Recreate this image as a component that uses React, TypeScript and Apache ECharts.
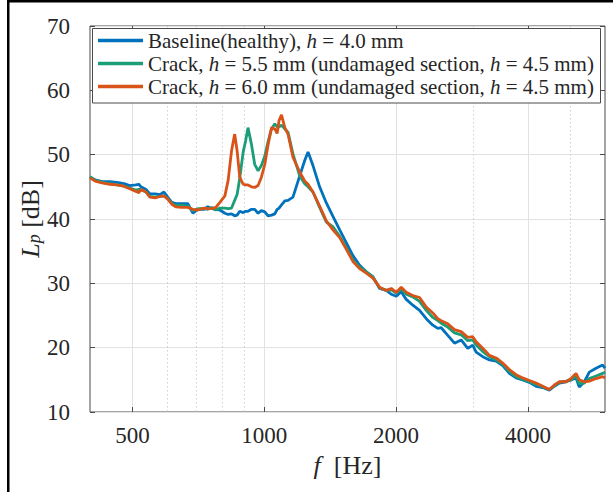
import React, { useEffect, useRef } from 'react';
import * as echarts from 'echarts';

// Frequencies (Hz) shared by all three spectra
const freqHz = [
  400, 411, 426, 444, 461, 478, 493, 509, 517, 523, 537, 548, 563, 578, 590, 602, 615, 628, 648, 669, 687, 705, 728, 743, 759, 775,
  792, 813, 827, 842, 856, 867, 879, 895, 907, 918, 935, 951, 968, 985, 1003, 1020, 1039, 1057, 1070, 1081, 1095, 1114, 1133, 1163, 1205, 1237, 1259, 1292, 1338, 1386,
  1435, 1487, 1540, 1594, 1651, 1710, 1771, 1834, 1900, 1950, 2002, 2055, 2110, 2184,
  2263, 2344, 2426, 2491, 2536, 2625, 2719, 2816, 2916, 2993, 3047, 3155, 3268, 3385,
  3504, 3629, 3759, 3892, 4032, 4176, 4324, 4478, 4597, 4720, 4888, 5019, 5152, 5242, 5382, 5525, 5722, 5925, 6000,
];

// Baseline (healthy), h = 4.0 mm
const baselineLp = [
  46.5, 46.1, 45.8, 45.8, 45.7, 45.5, 45.2, 45.3, 45.4, 45.0, 44.6, 43.9, 43.9, 43.8, 44.2, 43.4, 42.6, 42.4, 42.4, 42.4, 40.9, 41.5, 41.5, 41.9, 41.6, 41.5,
  41.4, 40.9, 40.7, 40.8, 40.5, 40.6, 41.2, 41.0, 41.2, 41.2, 41.5, 41.5, 40.9, 41.3, 41.1, 40.5, 40.6, 40.8, 41.5, 41.7, 42.2, 42.8, 42.9, 43.4, 46.7, 49.1, 50.4, 48.3, 45.0, 42.5,
  40.4, 38.3, 36.3, 34.3, 32.8, 31.8, 31.0, 29.2, 28.9, 28.3, 28.0, 28.7, 27.5, 26.6,
  25.8, 24.5, 23.5, 23.0, 23.1, 21.9, 20.7, 21.2, 19.9, 20.4, 19.3, 18.6, 18.1, 17.9,
  17.2, 16.0, 15.3, 15.0, 14.6, 14.0, 13.8, 13.4, 14.0, 14.5, 14.7, 15.0, 15.3, 13.9, 14.7, 16.2, 16.8, 17.3, 16.8,
];

// Crack, h = 5.5 mm
const crack55Lp = [
  46.6, 46.0, 45.7, 45.5, 45.3, 45.1, 44.8, 44.5, 44.6, 44.6, 44.2, 43.5, 43.4, 43.5, 43.6, 43.2, 42.4, 42.1, 42.1, 42.0, 41.3, 41.6, 41.6, 41.5, 41.8, 41.4,
  41.7, 41.7, 41.6, 41.7, 42.9, 43.8, 46.3, 50.4, 52.2, 54.2, 51.6, 48.5, 47.5, 48.3, 49.8, 52.0, 54.0, 54.8, 54.3, 54.3, 54.6, 54.0, 53.5, 50.1, 46.7, 45.5, 45.0, 44.2, 41.8, 39.5,
  38.8, 37.3, 35.5, 33.6, 32.5, 31.8, 31.0, 29.3, 28.9, 29.0, 28.5, 29.1, 28.3, 27.9,
  27.2, 25.8, 24.7, 24.2, 23.8, 23.2, 22.3, 22.0, 21.1, 21.2, 20.4, 19.4, 18.6, 18.1,
  17.4, 16.3, 15.5, 15.1, 14.7, 14.3, 13.9, 13.5, 14.1, 14.6, 14.8, 15.0, 15.6, 14.4, 14.5, 15.2, 15.6, 16.0, 16.2,
];

// Crack, h = 6.0 mm
const crack60Lp = [
  46.4, 45.9, 45.6, 45.4, 45.3, 45.1, 44.7, 44.3, 44.1, 44.6, 44.2, 43.4, 43.3, 43.5, 43.6, 43.1, 42.3, 41.9, 41.8, 41.8, 41.5, 41.4, 41.7, 41.6, 41.6, 41.8,
  42.6, 43.6, 46.0, 50.6, 53.2, 50.6, 46.5, 45.4, 45.3, 45.3, 45.0, 44.9, 45.2, 46.5, 48.5, 51.5, 54.2, 54.0, 53.3, 55.3, 56.2, 54.2, 53.2, 49.6, 47.3, 45.9, 45.4, 44.2, 42.0, 39.7,
  38.3, 37.1, 35.3, 33.4, 32.3, 31.6, 30.8, 29.4, 28.9, 29.2, 28.6, 29.4, 28.6, 28.1,
  27.8, 26.3, 25.4, 24.5, 24.2, 23.7, 22.8, 22.5, 21.6, 21.7, 20.9, 19.9, 18.8, 18.4,
  17.6, 16.6, 15.8, 15.3, 14.9, 14.5, 14.0, 13.5, 14.2, 14.7, 14.7, 15.2, 16.0, 15.0, 14.7, 14.8, 15.2, 15.5, 15.3,
];

const seriesNames = [
  'Baseline(healthy), h = 4.0 mm',
  'Crack, h = 5.5 mm (undamaged section, h = 4.5 mm)',
  'Crack, h = 6.0 mm (undamaged section, h = 4.5 mm)',
];
const seriesColors = ['#0072BD', '#1A9E77', '#D95319'];

const xMin = 400;
const xMax = 6000;
const xMajorTicks = [500, 1000, 2000, 4000];
const xMinorGrid = [600, 700, 800, 900, 3000, 5000];
const yMin = 10;
const yMax = 70;
const yStep = 10;

const FONT = 'Liberation Serif';
const TXT = '#262626';

export default function App() {
  const ref = useRef<HTMLDivElement>(null);
  useEffect(() => {
    if (!ref.current) return;
    const chart = echarts.init(ref.current, undefined, { renderer: 'svg' });
    const lg = (v: number) => Math.log10(v);
    const valueAxisBase = {
      type: 'value' as const,
      min: lg(xMin),
      max: lg(xMax),
      gridIndex: 0,
    };
    const allSeries = [baselineLp, crack55Lp, crack60Lp].map((vals, k) => ({
      name: seriesNames[k],
      type: 'line',
      xAxisIndex: 0,
      yAxisIndex: 0,
      symbol: 'none',
      smooth: false,
      z: 2,
      lineStyle: { color: seriesColors[k], width: 2.8 },
      itemStyle: { color: seriesColors[k] },
      data: freqHz.map((f, i) => [f, vals[i]]),
    }));
    chart.setOption({
      animation: false,
      backgroundColor: '#ffffff',
      grid: {
        left: 90,
        right: 8,
        top: 26,
        bottom: 80,
        show: true,
        borderColor: '#4a4a4a',
        borderWidth: 1,
        backgroundColor: 'transparent',
      },
      xAxis: [
        { type: 'log', min: xMin, max: xMax, show: false, gridIndex: 0 },
        {
          ...valueAxisBase,
          position: 'bottom',
          axisLine: { show: false },
          axisTick: { show: true, inside: true, length: 5, customValues: xMajorTicks.map(lg), lineStyle: { color: '#4a4a4a' } },
          axisLabel: {
            show: true,
            customValues: xMajorTicks.map(lg),
            formatter: (v: number) => String(Math.round(Math.pow(10, v))),
            fontFamily: FONT,
            fontSize: 23,
            color: TXT,
            margin: 12,
          },
          splitLine: { show: true, lineStyle: { color: '#e2e2e2', width: 1 } },
          name: '{i|f}\u00a0 [Hz]',
          nameLocation: 'middle',
          nameGap: 40,
          nameTextStyle: {
            fontFamily: FONT,
            fontSize: 26,
            color: TXT,
            rich: { i: { fontFamily: FONT, fontSize: 26, fontStyle: 'italic', color: TXT } },
          },
        },
        {
          ...valueAxisBase,
          position: 'top',
          axisLine: { show: false },
          axisTick: { show: true, inside: true, length: 5, customValues: xMajorTicks.map(lg), lineStyle: { color: '#4a4a4a' } },
          axisLabel: { show: false },
          splitLine: { show: false },
        },
        {
          ...valueAxisBase,
          position: 'top',
          axisLine: { show: false },
          axisTick: { show: false, customValues: xMinorGrid.map(lg) },
          axisLabel: { show: false },
          splitLine: { show: true, lineStyle: { color: '#cfcfcf', width: 1, type: [1.5, 2.5] } },
        },
      ],
      yAxis: [
        {
          type: 'value',
          min: yMin,
          max: yMax,
          interval: yStep,
          position: 'left',
          axisLine: { show: false },
          axisTick: { show: true, inside: true, length: 5, lineStyle: { color: '#4a4a4a' } },
          axisLabel: { fontFamily: FONT, fontSize: 23, color: TXT, margin: 20 },
          splitLine: { show: true, lineStyle: { color: '#e2e2e2', width: 1 } },
          name: '{i|L}{s|p} [dB]',
          nameLocation: 'middle',
          nameGap: 47,
          nameMoveOverlap: false,
          nameTextStyle: {
            fontFamily: FONT,
            fontSize: 26,
            color: TXT,
            rich: {
              i: { fontFamily: FONT, fontSize: 26, fontStyle: 'italic', color: TXT },
              s: { fontFamily: FONT, fontSize: 18, fontStyle: 'italic', color: TXT, lineHeight: 12, verticalAlign: 'bottom' },
            },
          },
        },
        {
          type: 'value',
          min: yMin,
          max: yMax,
          interval: yStep,
          position: 'right',
          axisLine: { show: false },
          axisTick: { show: true, inside: true, length: 5, lineStyle: { color: '#4a4a4a' } },
          axisLabel: { show: false },
          splitLine: { show: false },
        },
      ],
      legend: {
        data: seriesNames,
        orient: 'vertical',
        left: 98,
        top: 30,
        padding: 0,
        itemGap: 2,
        itemWidth: 45,
        itemHeight: 3.5,
        icon: 'rect',
        selectedMode: false,
        z: 4,
        formatter: (name: string) => name.replace(/h =/g, '{i|h} ='),
        textStyle: {
          fontFamily: FONT,
          fontSize: 21,
          color: TXT,
          rich: { i: { fontFamily: FONT, fontSize: 21, fontStyle: 'italic', color: TXT } },
        },
      },
      graphic: [
        {
          type: 'rect',
          z: 3,
          shape: { x: 92.5, y: 28.5, width: 508, height: 74.5 },
          style: { fill: '#ffffff', stroke: '#4a4a4a', lineWidth: 1 },
        },
        { type: 'rect', z: 10, shape: { x: 7, y: 0, width: 606, height: 2.5 }, style: { fill: '#000000' } },
        { type: 'rect', z: 10, shape: { x: 7, y: 0, width: 2.5, height: 492 }, style: { fill: '#000000' } },
      ],
      series: allSeries,
    });
    return () => chart.dispose();
  }, []);
  return <div ref={ref} style={{ position: 'absolute', left: 0, top: 0, width: 613, height: 492 }} />;
}
